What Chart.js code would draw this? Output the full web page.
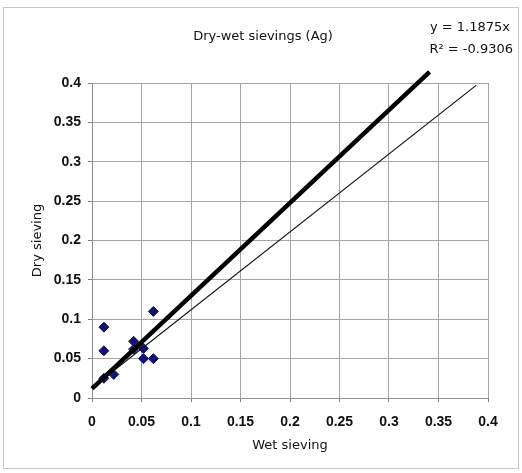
<!DOCTYPE html>
<html>
<head>
<meta charset="utf-8">
<script src="https://cdn.jsdelivr.net/npm/chart.js@4"></script>
<style>
  body { margin: 0; background: #fff; }
  #wrap { width: 522px; height: 473px; }
</style>
</head>
<body>
<div id="wrap"><canvas id="myChart"></canvas></div>
<script>
// measured values
const wetX = [0.012, 0.012, 0.062, 0.042, 0.042, 0.052, 0.052, 0.062, 0.022, 0.012];
const dryY = [0.09, 0.06, 0.11, 0.072, 0.062, 0.063, 0.05, 0.05, 0.03, 0.025];

const thickLineX = [0, 0.341];
const thickLineY = [0.012, 0.414];
const thinLineX = [0, 0.388];
const thinLineY = [0.013, 0.397];

const tickLabels = ["0", "0.05", "0.1", "0.15", "0.2", "0.25", "0.3", "0.35", "0.4"];
const chartTitle = "Dry-wet sievings (Ag)";
const eqLines = ["y = 1.1875x", "R² = -0.9306"];

const FONT = "'DejaVu Sans'";
const TICKFONT = { family: "'Liberation Sans'", size: 14, weight: "bold" };

function toPoints(xs, ys) {
  return xs.map((x, i) => ({ x: x, y: ys[i] }));
}

function tickText(value) {
  let i = Math.round(value / 0.05);
  return tickLabels[i];
}

// background, outer frame, title and trendline label
const frame = {
  id: "frame",
  beforeDraw(chart) {
    let c = chart.ctx;
    c.save();
    c.fillStyle = "#fff";
    c.fillRect(0, 0, chart.width, chart.height);
    c.strokeStyle = "#c8c8c8";
    c.lineWidth = 1;
    c.strokeRect(3.5, 7.5, 515, 461);
    c.restore();
  },
  afterDraw(chart) {
    let c = chart.ctx;
    c.save();
    c.fillStyle = "#111";
    c.textBaseline = "middle";
    c.font = "13px " + FONT;
    c.textAlign = "center";
    c.fillText(chartTitle, 263, 37);
    c.textAlign = "right";
    c.fillText(eqLines[0], 510, 28);
    c.fillText(eqLines[1], 513, 50);
    c.restore();
  }
};

const ctx = document.getElementById("myChart").getContext("2d");
const myChart = new Chart(ctx, {
  type: "scatter",
  data: {
    datasets: [
      {
        label: "Ag",
        data: toPoints(wetX, dryY),
        pointStyle: "rectRot",
        pointRadius: 5,
        backgroundColor: "#14146e",
        borderColor: "#14146e",
        order: 3,
      },
      {
        label: "thin",
        type: "line",
        data: toPoints(thinLineX, thinLineY),
        borderColor: "#111",
        borderWidth: 1.2,
        pointRadius: 0,
        order: 2,
      },
      {
        label: "thick",
        type: "line",
        data: toPoints(thickLineX, thickLineY),
        borderColor: "#000",
        borderWidth: 4.5,
        pointRadius: 0,
        clip: false,
        order: 1,
      },
    ],
  },
  options: {
    responsive: true,
    maintainAspectRatio: false,
    animation: false,
    layout: { padding: { left: 0, right: 34, top: 83, bottom: 0 } },
    plugins: {
      legend: { display: false },
      tooltip: { enabled: false },
    },
    scales: {
      x: {
        type: "linear",
        min: 0,
        max: 0.4,
        ticks: {
          stepSize: 0.05,
          callback: tickText,
          color: "#111",
          font: TICKFONT,
          padding: 12,
          maxRotation: 0,
        },
        grid: { color: "#aaa3a3", tickLength: 4, tickColor: "#808080" },
        border: { color: "#909090" },
        title: {
          display: true,
          text: "Wet sieving",
          color: "#111",
          font: { family: FONT, size: 13 },
          padding: { top: 4, bottom: 20 },
        },
        afterFit(scale) { scale.height = 75; },
      },
      y: {
        type: "linear",
        min: 0,
        max: 0.4,
        ticks: {
          stepSize: 0.05,
          callback: tickText,
          color: "#111",
          font: TICKFONT,
          padding: 7,
        },
        grid: { color: "#aaa3a3", tickLength: 4, tickColor: "#808080" },
        border: { color: "#909090" },
        title: {
          display: true,
          text: "Dry sieving",
          color: "#111",
          font: { family: FONT, size: 13 },
          padding: { top: 30, bottom: 2 },
        },
        afterFit(scale) { scale.width = 92; },
      },
    },
  },
  plugins: [frame],
});
</script>
</body>
</html>
